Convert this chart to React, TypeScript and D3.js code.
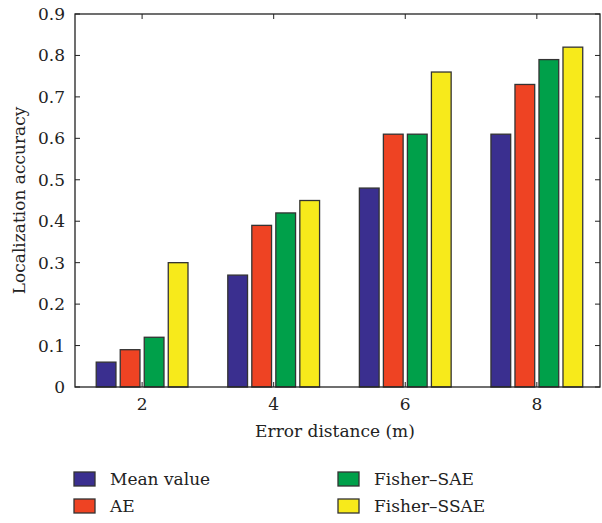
import { useRef, useEffect } from "react";
import * as d3 from "d3";

const distances = [2, 4, 6, 8];
const seriesNames = ["Mean value", "AE", "Fisher–SAE", "Fisher–SSAE"];
const meanValue = [0.06, 0.27, 0.48, 0.61];
const ae = [0.09, 0.39, 0.61, 0.73];
const fisherSae = [0.12, 0.42, 0.61, 0.79];
const fisherSsae = [0.3, 0.45, 0.76, 0.82];
const yTicks = [0, 0.1, 0.2, 0.3, 0.4, 0.5, 0.6, 0.7, 0.8, 0.9];
const colors = ["#3a2f8f", "#ee4323", "#00a04a", "#f7ea1b"];

const W = 602;
const H = 523;
const font = "'DejaVu Serif', 'Liberation Serif', serif";

export default function App() {
  const svgRef = useRef<SVGSVGElement>(null);

  useEffect(() => {
    const svg = d3.select(svgRef.current);
    svg.selectAll("*").remove();

    const left = 75, right = 600, top = 14, bottom = 387;
    const x = d3.scaleLinear().domain([0.98, 8.96]).range([left, right]);
    const y = d3.scaleLinear().domain([0, 0.9]).range([bottom, top]);

    const series = [meanValue, ae, fisherSae, fisherSsae];
    const step = 0.365;
    const bw = 0.3;

    const g = svg.append("g");

    // bars
    series.forEach((vals, si) => {
      g.selectAll(null)
        .data(vals)
        .join("rect")
        .attr("x", (_, i) => x(distances[i] + (si - 1.5) * step - bw / 2))
        .attr("width", x(bw) - x(0))
        .attr("y", (d) => y(d))
        .attr("height", (d) => y(0) - y(d))
        .attr("fill", colors[si])
        .attr("stroke", "#333")
        .attr("stroke-width", 1.3);
    });

    // frame
    g.append("rect")
      .attr("x", left)
      .attr("y", top)
      .attr("width", right - left)
      .attr("height", bottom - top)
      .attr("fill", "none")
      .attr("stroke", "#222")
      .attr("stroke-width", 1.3);

    const tl = 5;
    yTicks.forEach((t) => {
      g.append("line").attr("x1", left).attr("x2", left + tl)
        .attr("y1", y(t)).attr("y2", y(t)).attr("stroke", "#222");
      g.append("line").attr("x1", right - tl).attr("x2", right)
        .attr("y1", y(t)).attr("y2", y(t)).attr("stroke", "#222");
      g.append("text")
        .attr("x", left - 10)
        .attr("y", y(t))
        .attr("dy", "0.35em")
        .attr("text-anchor", "end")
        .attr("font-family", font)
        .attr("font-size", 17)
        .attr("fill", "#222")
        .text(t === 0 ? "0" : d3.format(".1f")(t));
    });

    distances.forEach((d) => {
      g.append("line").attr("x1", x(d)).attr("x2", x(d))
        .attr("y1", bottom).attr("y2", bottom - tl).attr("stroke", "#222");
      g.append("line").attr("x1", x(d)).attr("x2", x(d))
        .attr("y1", top).attr("y2", top + tl).attr("stroke", "#222");
      g.append("text")
        .attr("x", x(d))
        .attr("y", bottom + 23)
        .attr("text-anchor", "middle")
        .attr("font-family", font)
        .attr("font-size", 17)
        .attr("fill", "#222")
        .text(d);
    });

    g.append("text")
      .attr("x", 335)
      .attr("y", 437)
      .attr("text-anchor", "middle")
      .attr("font-family", font)
      .attr("font-size", 17)
      .attr("fill", "#222")
      .text("Error distance (m)");

    g.append("text")
      .attr("transform", `translate(25,${(top + bottom) / 2}) rotate(-90)`)
      .attr("text-anchor", "middle")
      .attr("font-family", font)
      .attr("font-size", 17)
      .attr("fill", "#222")
      .text("Localization accuracy");

    // legend
    const legPos = [
      [74, 472], [74, 499], [338, 472], [338, 499],
    ];
    seriesNames.forEach((name, i) => {
      const [lx, ly] = legPos[i];
      g.append("rect")
        .attr("x", lx).attr("y", ly)
        .attr("width", 21).attr("height", 14)
        .attr("fill", colors[i])
        .attr("stroke", "#333")
        .attr("stroke-width", 1.3);
      g.append("text")
        .attr("x", lx + 36)
        .attr("y", ly + 7)
        .attr("dy", "0.35em")
        .attr("font-family", font)
        .attr("font-size", 17)
        .attr("fill", "#222")
        .text(name);
    });
  }, []);

  return (
    <svg
      ref={svgRef}
      width={W}
      height={H}
      style={{ position: "absolute", left: 0, top: 0, background: "#fff" }}
    ></svg>
  );
}
